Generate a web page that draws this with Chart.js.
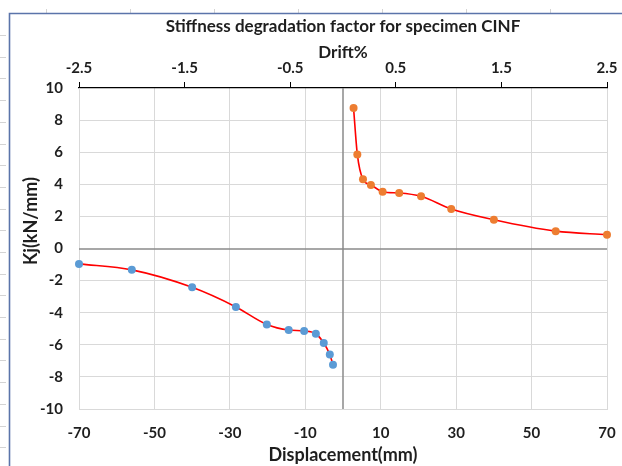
<!DOCTYPE html>
<html>
<head>
<meta charset="utf-8">
<script src="https://cdn.jsdelivr.net/npm/chart.js@4/dist/chart.umd.min.js"></script>
<style>
  html, body { margin: 0; padding: 0; background: #fff; }
  canvas { display: block; }
</style>
</head>
<body>
<canvas id="c" width="622" height="466"></canvas>
<script>
// ---- Data ----
const dispNeg = [-70, -56, -40, -28.4, -20.2, -14.4, -10.3, -7.2, -5.1, -3.5, -2.65];
const kNeg    = [-0.96, -1.33, -2.42, -3.64, -4.73, -5.08, -5.14, -5.31, -5.89, -6.61, -7.25];
const dispPos = [2.8, 3.8, 5.3, 7.4, 10.5, 14.9, 20.7, 28.7, 40.0, 56.4, 70];
const kPos    = [8.75, 5.86, 4.31, 3.96, 3.54, 3.46, 3.25, 2.46, 1.79, 1.08, 0.86];

const bottomTicks = [-70, -50, -30, -10, 10, 30, 50, 70];
const topTicks = [-2.5, -1.5, -0.5, 0.5, 1.5, 2.5];
const yTicks = [-10, -8, -6, -4, -2, 0, 2, 4, 6, 8, 10];

const chartTitle = "Stiffness degradation factor for specimen CINF";
const topTitle = "Drift%";
const xTitle = "Displacement(mm)";
const yTitle = "Kj(kN/mm)";

const FONT = "Lato";
const TXT = "#1e1e1e";
const GRID = "#d9d9d9";

const toPts = (xs, ys) => xs.map((x, i) => ({ x: x, y: ys[i] }));

const framePlugin = {
  id: 'frame',
  beforeDraw(chart) {
    const ctx = chart.ctx;
    ctx.save();
    ctx.fillStyle = '#ffffff';
    ctx.fillRect(0, 0, chart.width, chart.height);
    ctx.strokeStyle = '#d4d4d4';
    ctx.lineWidth = 1;
    for (let y = 35; y < chart.height; y += 21.7) {
      ctx.beginPath(); ctx.moveTo(0, Math.round(y) + 0.5); ctx.lineTo(6, Math.round(y) + 0.5); ctx.stroke();
    }
    for (let x = 46; x < chart.width; x += 84) {
      ctx.beginPath(); ctx.moveTo(Math.round(x) + 0.5, 9); ctx.lineTo(Math.round(x) + 0.5, 13); ctx.stroke();
    }
    ctx.strokeStyle = '#5b74aa';
    ctx.lineWidth = 1.6;
    ctx.beginPath();
    ctx.moveTo(9.5, chart.height);
    ctx.lineTo(9.5, 13.5);
    ctx.lineTo(chart.width, 13.5);
    ctx.stroke();
    ctx.restore();
  }
};

const zeroLinesPlugin = {
  id: 'zeroLines',
  beforeDatasetsDraw(chart) {
    const { ctx, chartArea, scales } = chart;
    const x0 = Math.round(scales.x.getPixelForValue(0));
    const y0 = Math.round(scales.y.getPixelForValue(0));
    ctx.save();
    ctx.strokeStyle = '#8a8a8a';
    ctx.lineWidth = 1.5;
    ctx.beginPath();
    ctx.moveTo(x0, chartArea.top); ctx.lineTo(x0, chartArea.bottom);
    ctx.moveTo(chartArea.left, y0); ctx.lineTo(chartArea.right, y0);
    ctx.stroke();
    ctx.restore();
  }
};

// Y-axis title, drawn as canvas text (sits a little above the plot's middle, as in the reference)
const yTitlePlugin = {
  id: 'yTitle',
  afterDraw(chart) {
    const ctx = chart.ctx;
    ctx.save();
    ctx.translate(31, 221);
    ctx.rotate(-Math.PI / 2);
    ctx.font = 'bold 18px ' + FONT;
    ctx.fillStyle = TXT;
    ctx.textAlign = 'center';
    ctx.textBaseline = 'middle';
    ctx.fillText(yTitle, 0, 0);
    ctx.restore();
  }
};

const noSidePad = s => { s.paddingLeft = 0; s.paddingRight = 0; };

new Chart(document.getElementById('c'), {
  type: 'scatter',
  data: {
    datasets: [
      {
        data: toPts(dispNeg, kNeg),
        showLine: true,
        borderColor: '#ff0000',
        borderWidth: 1.6,
        cubicInterpolationMode: 'monotone',
        pointRadius: 4,
        pointBackgroundColor: '#5b9bd5',
        pointBorderColor: '#5b9bd5',
        pointBorderWidth: 0,
        clip: false,
        xAxisID: 'x', yAxisID: 'y'
      },
      {
        data: toPts(dispPos, kPos),
        showLine: true,
        borderColor: '#ff0000',
        borderWidth: 1.6,
        cubicInterpolationMode: 'monotone',
        pointRadius: 4,
        pointBackgroundColor: '#ed7d31',
        pointBorderColor: '#ed7d31',
        pointBorderWidth: 0,
        clip: false,
        xAxisID: 'x', yAxisID: 'y'
      }
    ]
  },
  options: {
    responsive: false,
    animation: false,
    devicePixelRatio: 1,
    layout: { padding: { left: 0, right: 15, top: 0, bottom: 0 } },
    plugins: {
      legend: { display: false },
      title: { display: false },
      tooltip: { enabled: false }
    },
    scales: {
      x: {
        type: 'linear',
        position: 'bottom',
        min: -70, max: 70,
        afterBuildTicks: s => { s.ticks = bottomTicks.map(v => ({ value: v })); },
        afterFit: s => { s.height = 57; noSidePad(s); },
        grid: { color: GRID, lineWidth: 1, drawTicks: false },
        border: { display: true, color: GRID, width: 1 },
        ticks: {
          padding: 15,
          color: TXT,
          font: { family: FONT, size: 15, weight: 'bold' },
          callback: v => String(v),
          maxRotation: 0, autoSkip: false
        },
        title: {
          display: true, text: xTitle, color: TXT,
          font: { family: FONT, size: 18, weight: 'bold' },
          padding: { top: 0, bottom: 0 }
        }
      },
      x2: {
        type: 'linear',
        position: 'top',
        min: -2.5, max: 2.5,
        afterBuildTicks: s => { s.ticks = topTicks.map(v => ({ value: v })); },
        afterFit: s => { s.height = 88; noSidePad(s); },
        grid: { drawOnChartArea: false, drawTicks: true, tickLength: 6, color: '#000000', lineWidth: 1 },
        border: { display: true, color: '#000000', width: 1.2 },
        ticks: {
          padding: 5,
          color: TXT,
          font: { family: FONT, size: 15, weight: 'bold' },
          callback: v => String(v),
          maxRotation: 0, autoSkip: false
        },
        title: {
          display: true, text: [chartTitle, topTitle], color: TXT,
          font: { family: FONT, size: 17, weight: 'bold', lineHeight: 1.53 },
          padding: { top: 14, bottom: 0 }
        }
      },
      y: {
        type: 'linear',
        position: 'left',
        min: -10, max: 10,
        afterBuildTicks: s => { s.ticks = yTicks.map(v => ({ value: v })); },
        afterFit: s => { s.width = 79; },
        grid: {
          color: c => (c.tick && (c.tick.value === 0 || c.tick.value === 10)) ? 'rgba(0,0,0,0)' : GRID,
          lineWidth: 1, drawTicks: false
        },
        border: { display: true, color: GRID, width: 1 },
        ticks: {
          padding: 16,
          color: TXT,
          font: { family: FONT, size: 15, weight: 'bold' },
          callback: v => String(v)
        },
        title: { display: false }
      }
    }
  },
  plugins: [framePlugin, zeroLinesPlugin, yTitlePlugin]
});
</script>
</body>
</html>
